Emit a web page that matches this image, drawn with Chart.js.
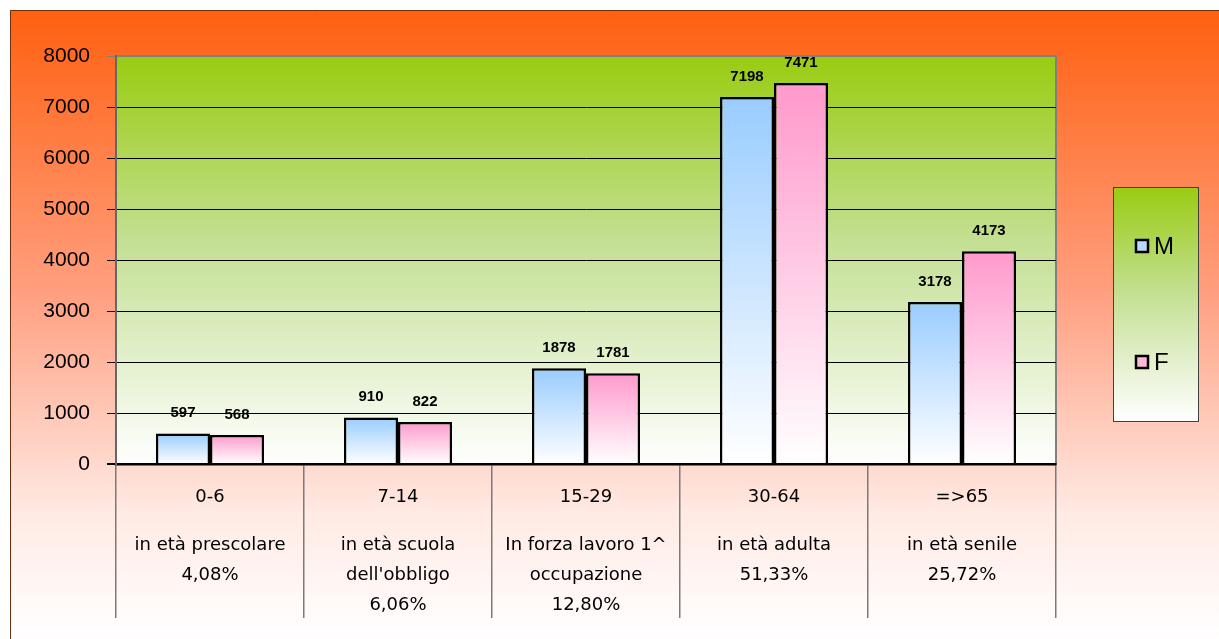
<!DOCTYPE html>
<html>
<head>
<meta charset="utf-8">
<script src="https://cdn.jsdelivr.net/npm/chart.js"></script>
<style>
  html, body { margin: 0; padding: 0; background: #fff; }
  #wrap { width: 1219px; height: 639px; }
</style>
</head>
<body>
<div id="wrap"><canvas id="popChart" width="1219" height="639"></canvas></div>
<script>
const ageRanges = ['0-6', '7-14', '15-29', '30-64', '=>65'];
const descriptions = [
    ['in età prescolare'],
    ['in età scuola', "dell'obbligo"],
    ['In forza lavoro 1^', 'occupazione'],
    ['in età adulta'],
    ['in età senile']
];
const percentages = ['4,08%', '6,06%', '12,80%', '51,33%', '25,72%'];
const maleValues = [597, 910, 1878, 7198, 3178];
const femaleValues = [568, 822, 1781, 7471, 4173];
const yTicks = [0, 1000, 2000, 3000, 4000, 5000, 6000, 7000, 8000];

const canvas = document.getElementById('popChart');

// vertical gradient on each bar, from its top down to the axis
function barGradient(topColor) {
    return function (ctx) {
        const chart = ctx.chart;
        const area = chart.chartArea;
        if (!area || ctx.parsed === undefined) return topColor;
        const top = chart.scales.y.getPixelForValue(ctx.parsed.y);
        const g = chart.ctx.createLinearGradient(0, top, 0, area.bottom);
        g.addColorStop(0, topColor);
        g.addColorStop(1, '#ffffff');
        return g;
    };
}

function greenGradient(c, y0, y1) {
    const g = c.createLinearGradient(0, y0, 0, y1);
    g.addColorStop(0, '#99cc11');
    g.addColorStop(0.45, '#c3df92');
    g.addColorStop(1, '#ffffff');
    return g;
}

const decor = {
    id: 'decor',
    beforeDraw(chart) {
        const c = chart.ctx;
        const a = chart.chartArea;
        c.save();
        // outer background
        const bg = c.createLinearGradient(0, 10, 0, chart.height);
        bg.addColorStop(0, '#ff600f');
        bg.addColorStop(0.45, '#ff9f80');
        bg.addColorStop(0.8, '#ffeae4');
        bg.addColorStop(1, '#ffffff');
        c.fillStyle = bg;
        c.fillRect(10, 10, chart.width - 10, chart.height - 10);
        c.strokeStyle = '#6a3010';
        c.lineWidth = 1;
        c.beginPath();
        c.moveTo(10.5, chart.height);
        c.lineTo(10.5, 10.5);
        c.lineTo(chart.width, 10.5);
        c.stroke();
        // plot area
        c.fillStyle = greenGradient(c, a.top, a.bottom);
        c.fillRect(a.left, a.top, a.right - a.left, a.bottom - a.top);
        c.strokeStyle = '#808080';
        c.lineWidth = 2;
        c.strokeRect(a.left, a.top, a.right - a.left, a.bottom - a.top);
        c.restore();
    },
    afterDraw(chart) {
        const c = chart.ctx;
        const a = chart.chartArea;
        const x = chart.scales.x;
        c.save();
        // value labels
        c.fillStyle = '#000';
        c.font = 'bold 15px "Liberation Sans", Arial, sans-serif';
        c.textAlign = 'center';
        c.textBaseline = 'bottom';
        chart.data.datasets.forEach((ds, i) => {
            chart.getDatasetMeta(i).data.forEach((bar, j) => {
                c.fillText(String(ds.data[j]), bar.x, bar.y - 13);
            });
        });
        // category labels
        c.font = '18px "Comic Sans MS", "DejaVu Sans", sans-serif';
        c.textBaseline = 'middle';
        ageRanges.forEach((r, j) => {
            const cx = x.getPixelForValue(j);
            c.fillText(r, cx, a.bottom + 33);
            const lines = descriptions[j].concat([percentages[j]]);
            lines.forEach((ln, k) => {
                c.fillText(ln, cx, a.bottom + 81 + k * 30);
            });
        });
        // legend
        const lx = 1113, ly = 187, lw = 85, lh = 234;
        c.fillStyle = greenGradient(c, ly, ly + lh);
        c.fillRect(lx, ly, lw, lh);
        c.strokeStyle = '#404040';
        c.lineWidth = 1;
        c.strokeRect(lx + 0.5, ly + 0.5, lw, lh);
        const itemY = [246, 362];
        const swatch = ['#b8dcff', '#ffb8d8'];
        chart.data.datasets.forEach((ds, i) => {
            c.fillStyle = swatch[i];
            c.fillRect(1136, itemY[i] - 6, 12, 12);
            c.strokeStyle = '#000';
            c.lineWidth = 2.5;
            c.strokeRect(1136, itemY[i] - 6, 12, 12);
            c.fillStyle = '#000';
            c.font = '24px "Liberation Sans", Arial, sans-serif';
            c.textAlign = 'left';
            c.textBaseline = 'middle';
            c.fillText(ds.label, 1154, itemY[i] + 1);
        });
        c.restore();
    }
};

new Chart(canvas, {
    type: 'bar',
    data: {
        labels: ageRanges,
        datasets: [{
            label: 'M',
            data: maleValues,
            backgroundColor: barGradient('#99ccff'),
            borderColor: '#000',
            borderWidth: 2.5,
            borderSkipped: 'start',
            categoryPercentage: 0.575,
            barPercentage: 1
        }, {
            label: 'F',
            data: femaleValues,
            backgroundColor: barGradient('#ff99cc'),
            borderColor: '#000',
            borderWidth: 2.5,
            borderSkipped: 'start',
            categoryPercentage: 0.575,
            barPercentage: 1
        }]
    },
    options: {
        responsive: false,
        animation: false,
        layout: { padding: { top: 56, right: 163, left: 0, bottom: 0 } },
        plugins: {
            legend: { display: false },
            tooltip: { enabled: false }
        },
        scales: {
            x: {
                afterFit: (s) => { s.height = 175; },
                grid: {
                    offset: true,
                    drawOnChartArea: false,
                    drawTicks: true,
                    tickLength: 154,
                    color: '#7a7a7a',
                    lineWidth: 1.5
                },
                border: { color: '#000', width: 2.5 },
                ticks: { display: false }
            },
            y: {
                min: 0,
                max: 8000,
                afterFit: (s) => { s.width = 116; },
                afterBuildTicks: (s) => { s.ticks = yTicks.map(v => ({ value: v })); },
                grid: {
                    color: (ctx) => ctx.tick && ctx.tick.value === 8000 ? '#808080' : '#000',
                    lineWidth: (ctx) => ctx.tick && ctx.tick.value === 0 ? 2 : 1,
                    tickLength: 9
                },
                border: { color: '#666', width: 2 },
                ticks: {
                    color: '#000',
                    padding: 17,
                    callback: (v) => String(v),
                    font: { size: 21, family: '"Liberation Sans", Arial, sans-serif' }
                }
            }
        }
    },
    plugins: [decor]
});
</script>
</body>
</html>
